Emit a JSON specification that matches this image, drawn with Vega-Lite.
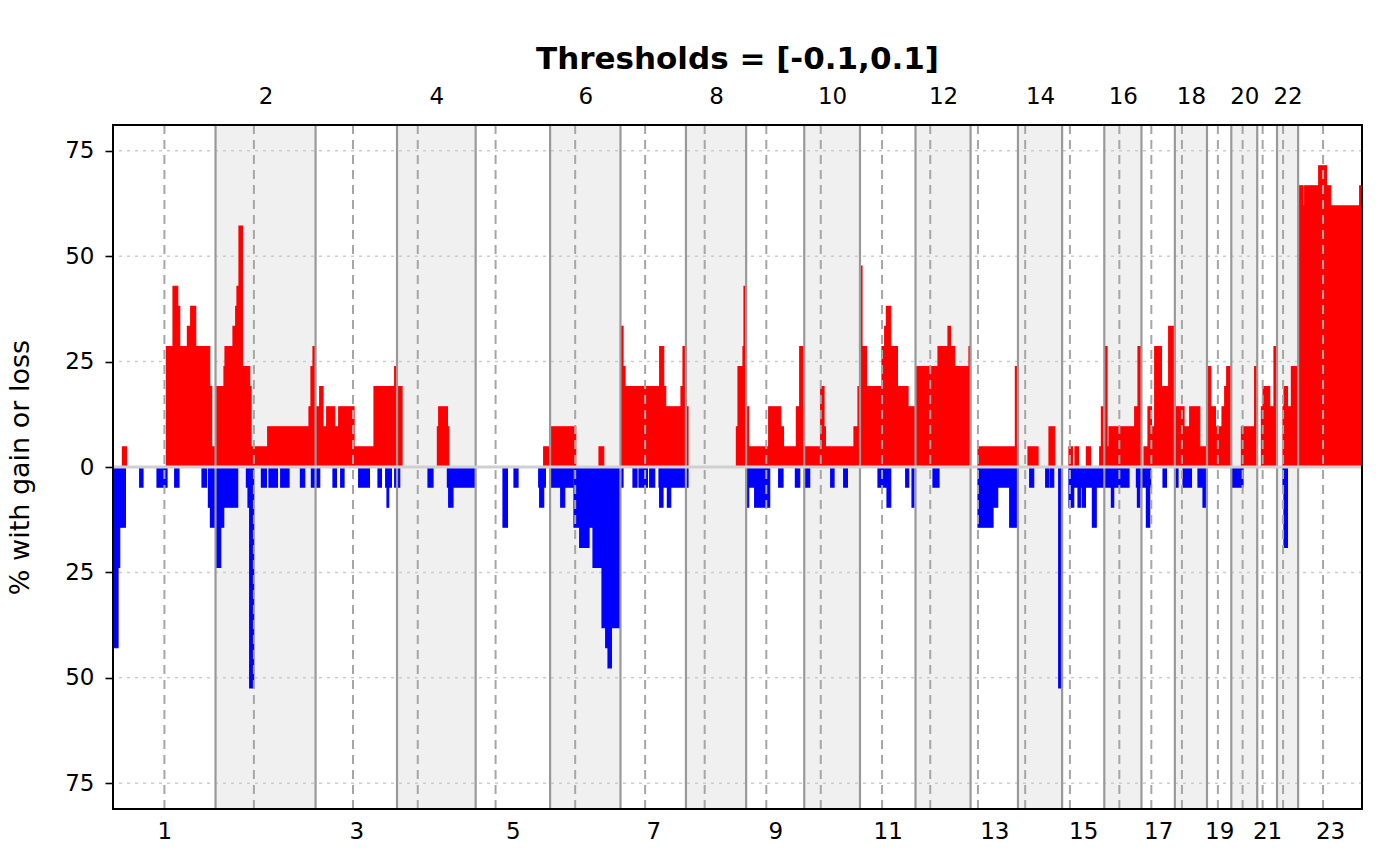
{
  "$schema": "https://vega.github.io/schema/vega-lite/v6.json",
  "width": 1249,
  "height": 684,
  "autosize": "none",
  "padding": {"left": 113, "top": 125, "right": 38, "bottom": 57},
  "background": "white",
  "config": {
    "font": "DejaVu Sans",
    "view": {"stroke": null}
  },
  "title": {
    "text": "Thresholds = [-0.1,0.1]",
    "font": "DejaVu Sans",
    "fontSize": 31,
    "fontWeight": "bold",
    "color": "black",
    "anchor": "middle",
    "offset": 9
  },
  "datasets": {
    "chroms": [
      {"chrom": 1, "start": 0, "end": 249.25, "centro": 125.0, "even": false},
      {"chrom": 2, "start": 249.25, "end": 492.45, "centro": 342.55, "even": true},
      {"chrom": 3, "start": 492.45, "end": 690.47, "centro": 583.45, "even": false},
      {"chrom": 4, "start": 690.47, "end": 881.62, "centro": 740.87, "even": true},
      {"chrom": 5, "start": 881.62, "end": 1062.54, "centro": 930.02, "even": false},
      {"chrom": 6, "start": 1062.54, "end": 1233.66, "centro": 1123.54, "even": true},
      {"chrom": 7, "start": 1233.66, "end": 1392.8, "centro": 1293.56, "even": false},
      {"chrom": 8, "start": 1392.8, "end": 1539.16, "centro": 1438.4, "even": true},
      {"chrom": 9, "start": 1539.16, "end": 1680.37, "centro": 1588.16, "even": false},
      {"chrom": 10, "start": 1680.37, "end": 1815.9, "centro": 1720.57, "even": true},
      {"chrom": 11, "start": 1815.9, "end": 1950.91, "centro": 1869.6, "even": false},
      {"chrom": 12, "start": 1950.91, "end": 2084.76, "centro": 1986.71, "even": true},
      {"chrom": 13, "start": 2084.76, "end": 2199.93, "centro": 2102.66, "even": false},
      {"chrom": 14, "start": 2199.93, "end": 2307.28, "centro": 2217.53, "even": true},
      {"chrom": 15, "start": 2307.28, "end": 2409.81, "centro": 2326.28, "even": false},
      {"chrom": 16, "start": 2409.81, "end": 2500.16, "centro": 2446.41, "even": true},
      {"chrom": 17, "start": 2500.16, "end": 2581.36, "centro": 2524.16, "even": false},
      {"chrom": 18, "start": 2581.36, "end": 2659.44, "centro": 2598.56, "even": true},
      {"chrom": 19, "start": 2659.44, "end": 2718.57, "centro": 2685.94, "even": false},
      {"chrom": 20, "start": 2718.57, "end": 2781.6, "centro": 2746.07, "even": true},
      {"chrom": 21, "start": 2781.6, "end": 2829.73, "centro": 2794.8, "even": false},
      {"chrom": 22, "start": 2829.73, "end": 2881.03, "centro": 2844.43, "even": true},
      {"chrom": 23, "start": 2881.03, "end": 3036.3, "centro": 2941.63, "even": false}
    ],
    "gridlines": [
      {"g": 75}, {"g": 50}, {"g": 25}, {"g": -25}, {"g": -50}, {"g": -75}
    ],
    "freq": [
      {"s": 22.9, "e": 32.6, "v": 4.76, "t": "gain"},
      {"s": 129.8, "e": 145.9, "v": 28.57, "t": "gain"},
      {"s": 145.9, "e": 157.3, "v": 42.86, "t": "gain"},
      {"s": 157.3, "e": 162.1, "v": 38.1, "t": "gain"},
      {"s": 162.1, "e": 180.9, "v": 28.57, "t": "gain"},
      {"s": 180.9, "e": 188.9, "v": 33.33, "t": "gain"},
      {"s": 188.9, "e": 201.0, "v": 38.1, "t": "gain"},
      {"s": 201.0, "e": 235.1, "v": 28.57, "t": "gain"},
      {"s": 235.1, "e": 239.9, "v": 19.05, "t": "gain"},
      {"s": 239.9, "e": 249.0, "v": 4.76, "t": "gain"},
      {"s": 251.4, "e": 269.8, "v": 19.05, "t": "gain"},
      {"s": 269.8, "e": 272.3, "v": 23.81, "t": "gain"},
      {"s": 272.3, "e": 291.7, "v": 28.57, "t": "gain"},
      {"s": 291.7, "e": 298.3, "v": 33.33, "t": "gain"},
      {"s": 298.3, "e": 301.4, "v": 38.1, "t": "gain"},
      {"s": 301.4, "e": 306.3, "v": 42.86, "t": "gain"},
      {"s": 306.3, "e": 314.6, "v": 57.14, "t": "gain"},
      {"s": 314.6, "e": 332.3, "v": 23.81, "t": "gain"},
      {"s": 332.3, "e": 335.5, "v": 19.05, "t": "gain"},
      {"s": 335.5, "e": 376.1, "v": 4.76, "t": "gain"},
      {"s": 376.1, "e": 476.5, "v": 9.52, "t": "gain"},
      {"s": 476.5, "e": 481.3, "v": 14.29, "t": "gain"},
      {"s": 481.3, "e": 486.2, "v": 23.81, "t": "gain"},
      {"s": 486.2, "e": 491.1, "v": 28.57, "t": "gain"},
      {"s": 491.1, "e": 502.5, "v": 14.29, "t": "gain"},
      {"s": 502.5, "e": 510.5, "v": 19.05, "t": "gain"},
      {"s": 510.5, "e": 519.5, "v": 9.52, "t": "gain"},
      {"s": 519.5, "e": 538.9, "v": 14.29, "t": "gain"},
      {"s": 538.9, "e": 548.7, "v": 9.52, "t": "gain"},
      {"s": 548.7, "e": 585.9, "v": 14.29, "t": "gain"},
      {"s": 585.9, "e": 634.5, "v": 4.76, "t": "gain"},
      {"s": 634.5, "e": 684.8, "v": 19.05, "t": "gain"},
      {"s": 684.8, "e": 689.0, "v": 23.81, "t": "gain"},
      {"s": 689.0, "e": 702.6, "v": 19.05, "t": "gain"},
      {"s": 788.6, "e": 791.8, "v": 9.52, "t": "gain"},
      {"s": 791.8, "e": 812.9, "v": 14.29, "t": "gain"},
      {"s": 812.9, "e": 816.1, "v": 9.52, "t": "gain"},
      {"s": 1047.0, "e": 1059.9, "v": 4.76, "t": "gain"},
      {"s": 1065.7, "e": 1124.8, "v": 9.52, "t": "gain"},
      {"s": 1181.5, "e": 1192.9, "v": 4.76, "t": "gain"},
      {"s": 1235.9, "e": 1239.8, "v": 33.33, "t": "gain"},
      {"s": 1239.8, "e": 1244.7, "v": 23.81, "t": "gain"},
      {"s": 1244.7, "e": 1329.0, "v": 19.05, "t": "gain"},
      {"s": 1329.0, "e": 1338.7, "v": 28.57, "t": "gain"},
      {"s": 1338.7, "e": 1343.6, "v": 19.05, "t": "gain"},
      {"s": 1343.6, "e": 1380.8, "v": 14.29, "t": "gain"},
      {"s": 1380.8, "e": 1385.7, "v": 19.05, "t": "gain"},
      {"s": 1385.7, "e": 1390.5, "v": 28.57, "t": "gain"},
      {"s": 1390.5, "e": 1397.8, "v": 14.29, "t": "gain"},
      {"s": 1515.5, "e": 1519.4, "v": 9.52, "t": "gain"},
      {"s": 1519.4, "e": 1531.5, "v": 23.81, "t": "gain"},
      {"s": 1531.5, "e": 1534.0, "v": 28.57, "t": "gain"},
      {"s": 1534.0, "e": 1537.4, "v": 42.86, "t": "gain"},
      {"s": 1539.4, "e": 1545.4, "v": 14.29, "t": "gain"},
      {"s": 1545.4, "e": 1594.0, "v": 4.76, "t": "gain"},
      {"s": 1594.0, "e": 1623.2, "v": 14.29, "t": "gain"},
      {"s": 1623.2, "e": 1629.8, "v": 9.52, "t": "gain"},
      {"s": 1629.8, "e": 1661.3, "v": 4.76, "t": "gain"},
      {"s": 1661.3, "e": 1669.4, "v": 14.29, "t": "gain"},
      {"s": 1669.4, "e": 1677.4, "v": 28.57, "t": "gain"},
      {"s": 1680.6, "e": 1720.4, "v": 4.76, "t": "gain"},
      {"s": 1720.4, "e": 1728.4, "v": 19.05, "t": "gain"},
      {"s": 1728.4, "e": 1731.8, "v": 9.52, "t": "gain"},
      {"s": 1731.8, "e": 1801.3, "v": 4.76, "t": "gain"},
      {"s": 1801.3, "e": 1811.1, "v": 9.52, "t": "gain"},
      {"s": 1811.1, "e": 1815.7, "v": 19.05, "t": "gain"},
      {"s": 1816.1, "e": 1820.8, "v": 47.62, "t": "gain"},
      {"s": 1820.8, "e": 1831.5, "v": 28.57, "t": "gain"},
      {"s": 1831.5, "e": 1869.4, "v": 19.05, "t": "gain"},
      {"s": 1869.4, "e": 1876.0, "v": 28.57, "t": "gain"},
      {"s": 1876.0, "e": 1880.1, "v": 33.33, "t": "gain"},
      {"s": 1880.1, "e": 1890.6, "v": 38.1, "t": "gain"},
      {"s": 1890.6, "e": 1906.9, "v": 28.57, "t": "gain"},
      {"s": 1906.9, "e": 1932.7, "v": 19.05, "t": "gain"},
      {"s": 1932.7, "e": 1950.7, "v": 14.29, "t": "gain"},
      {"s": 1951.5, "e": 2005.6, "v": 23.81, "t": "gain"},
      {"s": 2005.6, "e": 2029.9, "v": 28.57, "t": "gain"},
      {"s": 2029.9, "e": 2035.7, "v": 33.33, "t": "gain"},
      {"s": 2035.7, "e": 2046.2, "v": 28.57, "t": "gain"},
      {"s": 2046.2, "e": 2080.9, "v": 23.81, "t": "gain"},
      {"s": 2080.9, "e": 2084.5, "v": 28.57, "t": "gain"},
      {"s": 2102.8, "e": 2193.7, "v": 4.76, "t": "gain"},
      {"s": 2193.7, "e": 2197.6, "v": 23.81, "t": "gain"},
      {"s": 2224.4, "e": 2248.7, "v": 4.76, "t": "gain"},
      {"s": 2275.4, "e": 2289.3, "v": 9.52, "t": "gain"},
      {"s": 2324.0, "e": 2332.3, "v": 4.76, "t": "gain"},
      {"s": 2338.6, "e": 2346.9, "v": 4.76, "t": "gain"},
      {"s": 2366.3, "e": 2376.1, "v": 4.76, "t": "gain"},
      {"s": 2398.7, "e": 2402.8, "v": 4.76, "t": "gain"},
      {"s": 2402.8, "e": 2406.7, "v": 14.29, "t": "gain"},
      {"s": 2410.8, "e": 2416.4, "v": 28.57, "t": "gain"},
      {"s": 2416.4, "e": 2421.3, "v": 4.76, "t": "gain"},
      {"s": 2421.3, "e": 2483.8, "v": 9.52, "t": "gain"},
      {"s": 2483.8, "e": 2491.8, "v": 14.29, "t": "gain"},
      {"s": 2491.8, "e": 2497.6, "v": 28.57, "t": "gain"},
      {"s": 2497.6, "e": 2500.0, "v": 9.52, "t": "gain"},
      {"s": 2506.4, "e": 2516.1, "v": 4.76, "t": "gain"},
      {"s": 2516.1, "e": 2524.4, "v": 14.29, "t": "gain"},
      {"s": 2524.4, "e": 2532.4, "v": 9.52, "t": "gain"},
      {"s": 2532.4, "e": 2548.7, "v": 28.57, "t": "gain"},
      {"s": 2548.7, "e": 2566.4, "v": 19.05, "t": "gain"},
      {"s": 2566.4, "e": 2578.6, "v": 33.33, "t": "gain"},
      {"s": 2582.7, "e": 2603.6, "v": 14.29, "t": "gain"},
      {"s": 2603.6, "e": 2617.5, "v": 9.52, "t": "gain"},
      {"s": 2617.5, "e": 2641.9, "v": 14.29, "t": "gain"},
      {"s": 2641.9, "e": 2655.6, "v": 4.76, "t": "gain"},
      {"s": 2660.5, "e": 2668.5, "v": 23.81, "t": "gain"},
      {"s": 2668.5, "e": 2679.9, "v": 14.29, "t": "gain"},
      {"s": 2679.9, "e": 2696.0, "v": 9.52, "t": "gain"},
      {"s": 2696.0, "e": 2702.6, "v": 14.29, "t": "gain"},
      {"s": 2702.6, "e": 2707.5, "v": 19.05, "t": "gain"},
      {"s": 2707.5, "e": 2717.1, "v": 23.81, "t": "gain"},
      {"s": 2743.2, "e": 2775.4, "v": 9.52, "t": "gain"},
      {"s": 2775.4, "e": 2779.6, "v": 23.81, "t": "gain"},
      {"s": 2791.8, "e": 2795.7, "v": 14.29, "t": "gain"},
      {"s": 2795.7, "e": 2811.9, "v": 19.05, "t": "gain"},
      {"s": 2811.9, "e": 2822.4, "v": 14.29, "t": "gain"},
      {"s": 2822.4, "e": 2828.2, "v": 28.57, "t": "gain"},
      {"s": 2844.3, "e": 2846.7, "v": 14.29, "t": "gain"},
      {"s": 2846.7, "e": 2855.0, "v": 19.05, "t": "gain"},
      {"s": 2855.0, "e": 2864.7, "v": 14.29, "t": "gain"},
      {"s": 2864.7, "e": 2879.3, "v": 23.81, "t": "gain"},
      {"s": 2882.4, "e": 2892.9, "v": 66.67, "t": "gain"},
      {"s": 2892.9, "e": 2897.0, "v": 61.9, "t": "gain"},
      {"s": 2897.0, "e": 2931.1, "v": 66.67, "t": "gain"},
      {"s": 2931.1, "e": 2949.8, "v": 71.43, "t": "gain"},
      {"s": 2949.8, "e": 2960.2, "v": 66.67, "t": "gain"},
      {"s": 2960.2, "e": 3030.7, "v": 61.9, "t": "gain"},
      {"s": 3030.7, "e": 3036.3, "v": 66.67, "t": "gain"},
      {"s": 0, "e": 12.2, "v": -42.86, "t": "loss"},
      {"s": 12.2, "e": 16.3, "v": -23.81, "t": "loss"},
      {"s": 16.3, "e": 30.1, "v": -14.29, "t": "loss"},
      {"s": 64.9, "e": 72.9, "v": -4.76, "t": "loss"},
      {"s": 107.0, "e": 121.6, "v": -4.76, "t": "loss"},
      {"s": 123.3, "e": 131.3, "v": -4.76, "t": "loss"},
      {"s": 150.0, "e": 160.4, "v": -4.76, "t": "loss"},
      {"s": 216.4, "e": 227.1, "v": -4.76, "t": "loss"},
      {"s": 231.9, "e": 236.8, "v": -9.52, "t": "loss"},
      {"s": 236.8, "e": 248.0, "v": -14.29, "t": "loss"},
      {"s": 251.4, "e": 261.8, "v": -23.81, "t": "loss"},
      {"s": 261.8, "e": 269.1, "v": -14.29, "t": "loss"},
      {"s": 269.1, "e": 303.1, "v": -9.52, "t": "loss"},
      {"s": 324.3, "e": 328.2, "v": -4.76, "t": "loss"},
      {"s": 328.2, "e": 332.3, "v": -9.52, "t": "loss"},
      {"s": 332.3, "e": 342.0, "v": -52.38, "t": "loss"},
      {"s": 360.8, "e": 372.9, "v": -4.76, "t": "loss"},
      {"s": 379.2, "e": 399.7, "v": -4.76, "t": "loss"},
      {"s": 407.7, "e": 427.9, "v": -4.76, "t": "loss"},
      {"s": 455.6, "e": 466.0, "v": -4.76, "t": "loss"},
      {"s": 482.3, "e": 502.5, "v": -4.76, "t": "loss"},
      {"s": 534.8, "e": 543.1, "v": -4.76, "t": "loss"},
      {"s": 553.5, "e": 561.6, "v": -4.76, "t": "loss"},
      {"s": 597.3, "e": 623.3, "v": -4.76, "t": "loss"},
      {"s": 644.2, "e": 652.5, "v": -4.76, "t": "loss"},
      {"s": 662.9, "e": 666.1, "v": -4.76, "t": "loss"},
      {"s": 666.1, "e": 670.2, "v": -9.52, "t": "loss"},
      {"s": 670.2, "e": 676.8, "v": -4.76, "t": "loss"},
      {"s": 684.8, "e": 697.0, "v": -4.76, "t": "loss"},
      {"s": 765.8, "e": 777.9, "v": -4.76, "t": "loss"},
      {"s": 812.9, "e": 816.1, "v": -4.76, "t": "loss"},
      {"s": 816.1, "e": 826.5, "v": -9.52, "t": "loss"},
      {"s": 826.5, "e": 879.3, "v": -4.76, "t": "loss"},
      {"s": 948.1, "e": 958.8, "v": -14.29, "t": "loss"},
      {"s": 974.8, "e": 984.6, "v": -4.76, "t": "loss"},
      {"s": 1034.9, "e": 1037.3, "v": -4.76, "t": "loss"},
      {"s": 1037.3, "e": 1047.0, "v": -9.52, "t": "loss"},
      {"s": 1047.0, "e": 1051.1, "v": -4.76, "t": "loss"},
      {"s": 1065.7, "e": 1088.4, "v": -4.76, "t": "loss"},
      {"s": 1088.4, "e": 1098.1, "v": -9.52, "t": "loss"},
      {"s": 1098.1, "e": 1118.3, "v": -4.76, "t": "loss"},
      {"s": 1120.7, "e": 1134.5, "v": -14.29, "t": "loss"},
      {"s": 1134.5, "e": 1157.2, "v": -19.05, "t": "loss"},
      {"s": 1157.2, "e": 1166.9, "v": -14.29, "t": "loss"},
      {"s": 1166.9, "e": 1188.8, "v": -23.81, "t": "loss"},
      {"s": 1188.8, "e": 1197.7, "v": -38.1, "t": "loss"},
      {"s": 1197.7, "e": 1203.4, "v": -42.86, "t": "loss"},
      {"s": 1203.4, "e": 1211.6, "v": -47.62, "t": "loss"},
      {"s": 1211.6, "e": 1231.8, "v": -38.1, "t": "loss"},
      {"s": 1235.9, "e": 1239.8, "v": -4.76, "t": "loss"},
      {"s": 1264.1, "e": 1273.8, "v": -4.76, "t": "loss"},
      {"s": 1278.7, "e": 1299.1, "v": -4.76, "t": "loss"},
      {"s": 1304.7, "e": 1316.9, "v": -4.76, "t": "loss"},
      {"s": 1327.3, "e": 1329.0, "v": -4.76, "t": "loss"},
      {"s": 1329.0, "e": 1337.0, "v": -9.52, "t": "loss"},
      {"s": 1337.0, "e": 1347.7, "v": -4.76, "t": "loss"},
      {"s": 1347.7, "e": 1355.8, "v": -9.52, "t": "loss"},
      {"s": 1355.8, "e": 1397.8, "v": -4.76, "t": "loss"},
      {"s": 1539.5, "e": 1545.4, "v": -9.52, "t": "loss"},
      {"s": 1545.4, "e": 1559.9, "v": -4.76, "t": "loss"},
      {"s": 1559.9, "e": 1596.4, "v": -9.52, "t": "loss"},
      {"s": 1618.3, "e": 1628.8, "v": -4.76, "t": "loss"},
      {"s": 1658.9, "e": 1669.4, "v": -4.76, "t": "loss"},
      {"s": 1681.5, "e": 1693.6, "v": -4.76, "t": "loss"},
      {"s": 1744.7, "e": 1752.8, "v": -4.76, "t": "loss"},
      {"s": 1776.3, "e": 1785.3, "v": -4.76, "t": "loss"},
      {"s": 1859.7, "e": 1881.6, "v": -4.76, "t": "loss"},
      {"s": 1881.6, "e": 1890.6, "v": -9.52, "t": "loss"},
      {"s": 1927.1, "e": 1934.4, "v": -4.76, "t": "loss"},
      {"s": 1942.4, "e": 1947.2, "v": -9.52, "t": "loss"},
      {"s": 1993.4, "e": 2008.0, "v": -4.76, "t": "loss"},
      {"s": 2102.8, "e": 2139.3, "v": -14.29, "t": "loss"},
      {"s": 2139.3, "e": 2150.7, "v": -9.52, "t": "loss"},
      {"s": 2150.7, "e": 2179.9, "v": -4.76, "t": "loss"},
      {"s": 2179.9, "e": 2196.1, "v": -14.29, "t": "loss"},
      {"s": 2228.5, "e": 2238.2, "v": -4.76, "t": "loss"},
      {"s": 2267.4, "e": 2275.4, "v": -4.76, "t": "loss"},
      {"s": 2278.8, "e": 2286.8, "v": -4.76, "t": "loss"},
      {"s": 2299.0, "e": 2303.9, "v": -52.38, "t": "loss"},
      {"s": 2324.0, "e": 2335.5, "v": -9.52, "t": "loss"},
      {"s": 2335.5, "e": 2345.9, "v": -4.76, "t": "loss"},
      {"s": 2345.9, "e": 2352.5, "v": -9.52, "t": "loss"},
      {"s": 2352.5, "e": 2356.6, "v": -4.76, "t": "loss"},
      {"s": 2356.6, "e": 2363.9, "v": -9.52, "t": "loss"},
      {"s": 2363.9, "e": 2380.9, "v": -4.76, "t": "loss"},
      {"s": 2380.9, "e": 2390.2, "v": -14.29, "t": "loss"},
      {"s": 2390.2, "e": 2409.8, "v": -4.76, "t": "loss"},
      {"s": 2409.8, "e": 2427.1, "v": -4.76, "t": "loss"},
      {"s": 2427.1, "e": 2432.7, "v": -9.52, "t": "loss"},
      {"s": 2432.7, "e": 2469.9, "v": -4.76, "t": "loss"},
      {"s": 2487.9, "e": 2490.4, "v": -4.76, "t": "loss"},
      {"s": 2490.4, "e": 2496.0, "v": -9.52, "t": "loss"},
      {"s": 2496.0, "e": 2512.2, "v": -4.76, "t": "loss"},
      {"s": 2512.2, "e": 2520.2, "v": -14.29, "t": "loss"},
      {"s": 2520.2, "e": 2522.6, "v": -4.76, "t": "loss"},
      {"s": 2552.6, "e": 2560.8, "v": -4.76, "t": "loss"},
      {"s": 2582.7, "e": 2589.0, "v": -4.76, "t": "loss"},
      {"s": 2601.2, "e": 2621.6, "v": -4.76, "t": "loss"},
      {"s": 2637.6, "e": 2649.8, "v": -4.76, "t": "loss"},
      {"s": 2649.8, "e": 2655.6, "v": -9.52, "t": "loss"},
      {"s": 2718.9, "e": 2747.0, "v": -4.76, "t": "loss"},
      {"s": 2844.3, "e": 2846.7, "v": -4.76, "t": "loss"},
      {"s": 2846.7, "e": 2855.0, "v": -19.05, "t": "loss"}
    ]
  },
  "layer": [
    {
      "data": {"name": "chroms"},
      "transform": [{"filter": "datum.even"}],
      "mark": {"type": "rect", "fill": "#f0f0f0", "strokeWidth": 0},
      "encoding": {
        "x": {
          "field": "start", "type": "quantitative",
          "scale": {"domain": [0, 3036.3], "nice": false, "zero": false},
          "axis": {
            "orient": "bottom",
            "title": null,
            "values": [124.6, 591.46, 972.08, 1313.23, 1609.77, 1883.41, 2142.35, 2358.55, 2540.76, 2689.01, 2805.67, 2958.67],
            "labelExpr": "'' + (indexof([124.6, 591.46, 972.08, 1313.23, 1609.77, 1883.41, 2142.35, 2358.55, 2540.76, 2689.01, 2805.67, 2958.67], datum.value) * 2 + 1)",
            "ticks": false, "domain": false, "grid": false,
            "labelFontSize": 23, "labelColor": "black", "labelPadding": 11,
            "labelOverlap": false, "labelFlush": false, "labelBound": false
          }
        },
        "x2": {"field": "end"}
      }
    },
    {
      "data": {"name": "gridlines"},
      "mark": {"type": "rule", "stroke": "#cccccc", "strokeWidth": 1.5, "strokeDash": [3, 5]},
      "encoding": {
        "y": {
          "field": "g", "type": "quantitative",
          "scale": {"domain": [-81.1, 81.1], "nice": false, "zero": false},
          "axis": {
            "orient": "left",
            "title": "% with gain or loss",
            "titleFontSize": 27, "titleFontWeight": "normal", "titleColor": "black",
            "titlePadding": 30,
            "values": [75, 50, 25, 0, -25, -50, -75],
            "labelExpr": "'' + abs(datum.value)",
            "labelFontSize": 23, "labelColor": "black", "labelPadding": 11,
            "tickSize": 8, "tickWidth": 1.6, "tickColor": "black",
            "domain": false, "grid": false, "zindex": 1
          }
        }
      }
    },
    {
      "data": {"name": "freq"},
      "mark": {"type": "rect", "strokeWidth": 1.2},
      "encoding": {
        "x": {"field": "s", "type": "quantitative", "axis": null},
        "x2": {"field": "e"},
        "y": {"field": "v", "type": "quantitative", "axis": null},
        "y2": {"datum": 0},
        "color": {
          "field": "t", "type": "nominal",
          "scale": {"domain": ["gain", "loss"], "range": ["#ff0000", "#0000ff"]},
          "legend": null
        },
        "stroke": {
          "field": "t", "type": "nominal",
          "scale": {"domain": ["gain", "loss"], "range": ["#ff0000", "#0000ff"]},
          "legend": null
        }
      }
    },
    {
      "data": {"name": "chroms"},
      "mark": {"type": "rule", "stroke": "#a6a6a6", "strokeWidth": 2, "strokeDash": [9, 6]},
      "encoding": {
        "x": {"field": "centro", "type": "quantitative", "axis": null}
      }
    },
    {
      "data": {"name": "chroms"},
      "transform": [{"filter": "datum.start > 0"}],
      "mark": {"type": "rule", "stroke": "#999999", "strokeWidth": 2.2},
      "encoding": {
        "x": {
          "field": "start", "type": "quantitative",
          "axis": {
            "orient": "top",
            "title": null,
            "values": [370.85, 786.05, 1148.1, 1465.98, 1748.14, 2017.84, 2253.61, 2454.99, 2620.4, 2750.09, 2855.38],
            "labelExpr": "'' + (indexof([370.85, 786.05, 1148.1, 1465.98, 1748.14, 2017.84, 2253.61, 2454.99, 2620.4, 2750.09, 2855.38], datum.value) * 2 + 2)",
            "ticks": false, "domain": false, "grid": false,
            "labelFontSize": 23, "labelColor": "black", "labelPadding": 17,
            "labelOverlap": false, "labelFlush": false, "labelBound": false
          }
        }
      }
    },
    {
      "data": {"values": [{"zero": 0}]},
      "mark": {"type": "rule", "stroke": "#d0d0d0", "strokeWidth": 3},
      "encoding": {
        "y": {"field": "zero", "type": "quantitative", "axis": null}
      }
    },
    {
      "data": {"values": [{"x0": 0, "x1": 3036.3, "y0": -81.1, "y1": 81.1}]},
      "mark": {"type": "rect", "filled": false, "stroke": "black", "strokeWidth": 2},
      "encoding": {
        "x": {"field": "x0", "type": "quantitative", "axis": null},
        "x2": {"field": "x1"},
        "y": {"field": "y0", "type": "quantitative", "axis": null},
        "y2": {"field": "y1"}
      }
    }
  ],
  "resolve": {"axis": {"x": "independent", "y": "independent"}}
}
